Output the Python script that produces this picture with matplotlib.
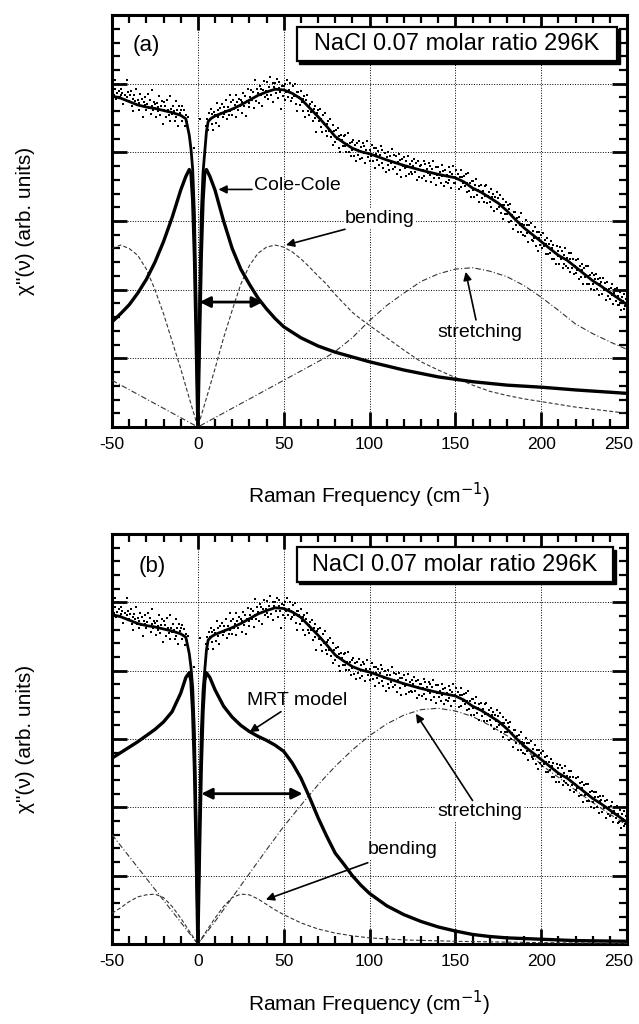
import numpy as np
import matplotlib
matplotlib.use('Agg')
import matplotlib.pyplot as plt
from matplotlib.ticker import MultipleLocator
from matplotlib.patches import Rectangle
from matplotlib.transforms import ScaledTranslation

plt.rcParams['font.family'] = ['Liberation Sans', 'DejaVu Sans']
plt.rcParams['axes.unicode_minus'] = False

# ---------------- data ----------------
title_text = "NaCl 0.07 molar ratio 296K"
xlabel_text = "Raman Frequency (cm$^{-1}$)"
ylabel_text = 'χ"(ν) (arb. units)'
xticks = [-50, 0, 50, 100, 150, 200, 250]

# measured spectrum (shared by both panels)
data_left_x = np.arange(-50, -5.75, 0.5)
data_left_y = [
    4.90, 4.99, 4.84, 5.06, 4.93, 4.78, 4.86, 5.00, 4.90, 4.80,
    4.93, 4.83, 4.87, 4.70, 4.99, 4.84, 4.76, 5.06, 4.81, 4.88,
    4.75, 4.83, 4.90, 4.68, 4.78, 4.60, 4.83, 4.75, 4.93, 4.69,
    4.77, 4.62, 4.72, 4.85, 4.67, 4.78, 4.51, 4.73, 4.81, 4.69,
    4.62, 4.71, 4.85, 4.65, 4.77, 4.56, 4.68, 4.91, 4.62, 4.73,
    4.70, 4.52, 4.72, 4.66, 4.60, 4.82, 4.55, 4.67, 4.75, 4.42,
    4.73, 4.61, 4.67, 4.51, 4.77, 4.62, 4.55, 4.82, 4.46, 4.63,
    4.56, 4.68, 4.60, 4.46, 4.75, 4.51, 4.62, 4.39, 4.68, 4.58,
    4.62, 4.46, 4.67, 4.52, 4.61, 4.38, 4.54, 4.44, 4.51,
]
data_right_x = np.arange(5, 250.25, 0.5)
data_right_y = [
    4.39, 4.49, 4.32, 4.57, 4.49, 4.63, 4.42, 4.56, 4.32, 4.59,
    4.55, 4.43, 4.72, 4.51, 4.62, 4.39, 4.65, 4.57, 4.70, 4.52,
    4.66, 4.56, 4.60, 4.76, 4.48, 4.66, 4.54, 4.84, 4.60, 4.73,
    4.54, 4.76, 4.63, 4.69, 4.84, 4.52, 4.73, 4.62, 4.78, 4.68,
    4.76, 4.57, 4.73, 4.86, 4.67, 4.82, 4.53, 4.75, 4.92, 4.72,
    4.66, 4.81, 4.91, 4.76, 4.88, 4.64, 4.81, 5.05, 4.75, 4.93,
    4.86, 4.72, 4.97, 4.84, 4.93, 4.68, 4.91, 5.04, 4.81, 4.90,
    4.84, 5.02, 4.78, 4.95, 5.10, 4.83, 4.91, 4.74, 5.01, 4.95,
    5.01, 4.87, 5.07, 4.79, 4.94, 5.03, 4.88, 4.63, 4.97, 4.82,
    4.96, 4.77, 5.00, 4.88, 5.06, 4.81, 4.91, 5.01, 4.75, 4.87,
    4.79, 4.96, 4.82, 4.99, 4.70, 4.88, 4.60, 4.88, 4.81, 4.69,
    4.90, 4.73, 4.78, 4.60, 4.82, 4.52, 4.76, 4.84, 4.60, 4.67,
    4.55, 4.71, 4.59, 4.74, 4.45, 4.63, 4.68, 4.50, 4.30, 4.58,
    4.61, 4.46, 4.63, 4.37, 4.48, 4.29, 4.54, 4.41, 4.58, 4.31,
    4.42, 4.24, 4.45, 4.31, 4.48, 4.22, 4.29, 4.40, 4.11, 4.31,
    4.15, 4.33, 4.20, 4.35, 4.07, 4.24, 4.00, 4.26, 4.18, 4.09,
    4.24, 4.09, 4.26, 4.01, 4.12, 4.28, 4.01, 4.13, 3.94, 4.15,
    4.04, 4.18, 3.95, 4.11, 3.88, 4.13, 4.03, 3.96, 4.17, 3.90,
    4.08, 3.92, 4.13, 3.99, 4.10, 3.85, 4.03, 4.16, 3.93, 3.98,
    3.87, 4.03, 3.94, 4.11, 3.88, 4.06, 3.77, 3.97, 4.06, 3.89,
    4.02, 3.82, 3.96, 4.09, 3.85, 4.03, 3.77, 3.90, 3.99, 3.71,
    3.93, 3.81, 4.01, 3.75, 3.94, 3.84, 4.05, 3.76, 3.86, 3.96,
    3.79, 3.95, 3.69, 3.86, 3.97, 3.74, 3.89, 3.64, 3.90, 3.80,
    3.93, 3.77, 3.87, 3.66, 3.79, 3.95, 3.69, 3.83, 3.71, 3.87,
    3.69, 3.80, 3.91, 3.71, 3.85, 3.60, 3.76, 3.87, 3.64, 3.80,
    3.81, 3.63, 3.75, 3.88, 3.66, 3.83, 3.58, 3.76, 3.70, 3.84,
    3.67, 3.80, 3.57, 3.76, 3.87, 3.62, 3.69, 3.52, 3.79, 3.67,
    3.79, 3.62, 3.71, 3.55, 3.81, 3.65, 3.73, 3.51, 3.75, 3.57,
    3.67, 3.55, 3.78, 3.60, 3.72, 3.48, 3.69, 3.80, 3.55, 3.64,
    3.56, 3.74, 3.61, 3.69, 3.47, 3.64, 3.74, 3.49, 3.64, 3.55,
    3.66, 3.51, 3.68, 3.43, 3.55, 3.70, 3.44, 3.56, 3.35, 3.59,
    3.45, 3.58, 3.35, 3.52, 3.61, 3.38, 3.45, 3.28, 3.51, 3.43,
    3.52, 3.33, 3.44, 3.27, 3.51, 3.36, 3.53, 3.26, 3.36, 3.42,
    3.28, 3.46, 3.21, 3.35, 3.40, 3.15, 3.35, 3.27, 3.42, 3.18,
    3.34, 3.21, 3.38, 3.11, 3.23, 3.32, 3.03, 3.23, 3.10, 3.28,
    3.10, 3.24, 2.99, 3.18, 3.25, 3.00, 3.09, 2.89, 3.13, 3.03,
    3.13, 2.94, 3.05, 2.84, 3.06, 2.94, 3.11, 2.84, 2.95, 2.79,
    2.94, 2.78, 3.01, 2.82, 2.94, 2.69, 2.94, 2.82, 2.97, 2.73,
    2.71, 2.85, 2.75, 2.91, 2.64, 2.84, 2.56, 2.76, 2.84, 2.65,
    2.80, 2.61, 2.83, 2.63, 2.73, 2.52, 2.66, 2.75, 2.52, 2.66,
    2.54, 2.71, 2.44, 2.61, 2.65, 2.45, 2.54, 2.37, 2.63, 2.49,
    2.57, 2.37, 2.62, 2.45, 2.57, 2.32, 2.50, 2.38, 2.60, 2.35,
    2.46, 2.32, 2.53, 2.26, 2.45, 2.53, 2.32, 2.45, 2.23, 2.34,
    2.25, 2.43, 2.29, 2.44, 2.16, 2.35, 2.18, 2.29, 2.37, 2.08,
    2.32, 2.18, 2.34, 2.09, 2.20, 2.34, 2.09, 2.22, 2.01, 2.24,
    2.08, 2.22, 1.99, 2.15, 2.23, 2.01, 2.15, 1.92, 2.09, 2.17,
    2.11, 1.93, 2.17, 1.99, 2.10, 1.85, 2.01, 2.11, 1.91, 2.01,
    1.87, 2.02, 1.92, 2.08, 1.79, 1.95, 2.01, 1.84, 2.02, 1.77,
    1.91, 1.78, 1.96, 1.70, 1.90, 1.83, 1.72, 1.94, 1.76, 1.87,
    1.80,
]
stray_x = [-2.0, 1.2]
stray_y = [4.06, 4.48]

# total fit (shared)
fit_x = [-50, -45, -40, -35, -30, -25, -20, -15, -10, -7, -5, -4, -3, -2, -1, 0,
         1, 2, 3, 4, 5, 6, 8, 10, 15, 20, 25, 30, 35, 40, 45, 50, 55, 60, 65, 70,
         75, 80, 85, 90, 95, 100, 110, 120, 130, 140, 150, 155, 160, 165, 170,
         175, 180, 185, 190, 195, 200, 205, 210, 215, 220, 225, 230, 235, 240,
         245, 250]
fit_y = [4.82, 4.79, 4.74, 4.69, 4.66, 4.64, 4.61, 4.58, 4.54, 4.49, 4.25, 4.05,
         3.75, 3.1, 1.8, 0.05, 1.8, 3.1, 3.7, 4.0, 4.3, 4.45, 4.5, 4.53, 4.58,
         4.63, 4.69, 4.76, 4.83, 4.88, 4.92, 4.91, 4.86, 4.78, 4.65, 4.52, 4.38,
         4.23, 4.14, 4.06, 4.01, 3.98, 3.89, 3.81, 3.74, 3.68, 3.63, 3.57, 3.48,
         3.42, 3.34, 3.26, 3.15, 3.02, 2.9, 2.8, 2.7, 2.6, 2.5, 2.43, 2.33, 2.23,
         2.13, 2.05, 1.96, 1.87, 1.78]

# panel (a): Cole-Cole, bending, stretching
cc_x = [-50, -45, -40, -35, -30, -25, -20, -15, -10, -7, -5, -4, -3, -2, -1, 0,
        1, 2, 3, 4, 5, 7, 10, 15, 20, 25, 30, 35, 40, 45, 50, 60, 70, 80, 90,
        100, 120, 140, 160, 180, 200, 220, 250]
cc_y = [1.53, 1.65, 1.78, 1.95, 2.15, 2.4, 2.7, 3.05, 3.45, 3.65, 3.75, 3.7,
        3.3, 2.5, 1.3, 0, 1.3, 2.5, 3.3, 3.7, 3.75, 3.65, 3.45, 3.0, 2.6, 2.3,
        2.08, 1.88, 1.72, 1.58, 1.46, 1.3, 1.18, 1.09, 1.02, 0.95, 0.83, 0.73,
        0.66, 0.61, 0.58, 0.54, 0.49]
bend_a_x = [-50, -45, -40, -35, -30, -25, -20, -15, -10, -5, 0, 5, 10, 15, 20,
            25, 30, 35, 40, 45, 50, 55, 60, 65, 70, 75, 80, 85, 90, 95, 100,
            110, 120, 130, 140, 150, 160, 170, 180, 190, 200, 220, 250]
bend_a_y = [2.6, 2.65, 2.6, 2.5, 2.3, 2.0, 1.65, 1.25, 0.85, 0.42, 0, 0.42,
            0.85, 1.3, 1.7, 2.08, 2.35, 2.53, 2.62, 2.65, 2.62, 2.55, 2.45,
            2.33, 2.2, 2.08, 1.93, 1.8, 1.67, 1.57, 1.48, 1.3, 1.12, 0.95,
            0.83, 0.72, 0.61, 0.52, 0.46, 0.41, 0.37, 0.29, 0.2]
str_a_x = [-50, -25, 0, 25, 50, 75, 80, 90, 100, 110, 120, 130, 140, 150, 160,
           170, 180, 190, 200, 210, 220, 230, 240, 250]
str_a_y = [0.68, 0.34, 0, 0.34, 0.68, 1.02, 1.1, 1.3, 1.55, 1.77, 1.95, 2.12,
           2.23, 2.3, 2.32, 2.27, 2.19, 2.06, 1.89, 1.7, 1.5, 1.36, 1.24, 1.13]

# panel (b): MRT model, bending, stretching
mrt_x = [-50, -45, -40, -35, -30, -25, -20, -15, -10, -7, -5, -4, -3, -2, -1,
         0, 1, 2, 3, 4, 5, 7, 10, 15, 20, 25, 30, 35, 40, 45, 50, 55, 60, 65,
         70, 75, 80, 85, 90, 95, 100, 110, 120, 130, 140, 150, 160, 170, 180,
         200, 220, 250]
mrt_y = [2.72, 2.8, 2.88, 2.96, 3.05, 3.14, 3.25, 3.4, 3.67, 3.9, 3.97, 3.85,
         3.4, 2.6, 1.4, 0, 1.4, 2.6, 3.4, 3.85, 3.97, 3.9, 3.72, 3.48, 3.32,
         3.2, 3.11, 3.04, 2.98, 2.91, 2.82, 2.65, 2.43, 2.15, 1.85, 1.58,
         1.33, 1.17, 1.0, 0.86, 0.74, 0.56, 0.43, 0.33, 0.25, 0.19, 0.14,
         0.11, 0.09, 0.07, 0.05, 0.04]
bend_b_x = [-50, -45, -40, -35, -30, -25, -20, -15, -10, -5, 0, 5, 10, 15, 20,
            25, 30, 35, 40, 45, 50, 60, 70, 80, 90, 100, 120, 150, 200, 250]
bend_b_y = [0.45, 0.53, 0.62, 0.69, 0.72, 0.73, 0.68, 0.55, 0.38, 0.19, 0,
            0.19, 0.38, 0.55, 0.68, 0.73, 0.72, 0.66, 0.58, 0.5, 0.43, 0.31,
            0.22, 0.16, 0.12, 0.09, 0.06, 0.04, 0.02, 0.01]
str_b_x = [-50, -40, -30, -20, -10, 0, 10, 20, 30, 40, 50, 60, 70, 80, 90, 100,
           110, 120, 130, 140, 150, 160, 170, 180, 190, 200, 210, 220, 230,
           240, 250]
str_b_y = [1.6, 1.28, 0.96, 0.64, 0.32, 0, 0.33, 0.68, 1.03, 1.38, 1.72, 2.03,
           2.33, 2.6, 2.84, 3.05, 3.22, 3.35, 3.43, 3.45, 3.41, 3.33, 3.2,
           3.05, 2.88, 2.62, 2.44, 2.25, 2.07, 1.9, 1.74]

# ---------------- figure ----------------
fig = plt.figure(figsize=(6.39, 10.24), dpi=100)
ax_a = fig.add_axes([0.1753, 0.583, 0.806, 0.4023])
ax_b = fig.add_axes([0.1753, 0.0781, 0.806, 0.4004])

BEND_LS = (0, (3.5, 2.0))
STR_LS = (0, (5, 2, 1, 2))
COMP_C = '#333333'


def style(ax, xlabel_y):
    ax.set_xlim(-50, 250)
    ax.set_ylim(0, 6)
    ax.set_xticks(xticks)
    ax.set_xticklabels([str(t) for t in xticks], fontsize=12.5)
    ax.xaxis.set_minor_locator(MultipleLocator(10))
    ax.yaxis.set_major_locator(MultipleLocator(1))
    ax.yaxis.set_minor_locator(MultipleLocator(0.2))
    ax.set_yticklabels([])
    ax.tick_params(which='both', direction='in', top=True, right=True,
                   color='black')
    ax.tick_params(which='major', length=11, width=2.0, pad=7)
    ax.tick_params(which='minor', length=6, width=1.6)
    ax.tick_params(axis='y', which='major', labelleft=False)
    for s in ax.spines.values():
        s.set_linewidth(2.2)
    ax.grid(True, which='major', color='black', linestyle=(0, (1, 1.6)),
            linewidth=0.7)
    ax.set_axisbelow(False)
    ax.set_xlabel(xlabel_text, fontsize=15)
    ax.xaxis.set_label_coords(0.5, xlabel_y)
    ax.set_ylabel(ylabel_text, fontsize=15)
    ax.yaxis.set_label_coords(-0.15, 0.5)
    # keep the last tick label inside the figure, as in the reference
    last = ax.xaxis.get_major_ticks()[-1].label1
    last.set_transform(last.get_transform() +
                       ScaledTranslation(-6 / 72, 0, fig.dpi_scale_trans))


def nacl_box(ax, x0, y0, x1, y1):
    w, h = x1 - x0, y1 - y0
    ax.add_patch(Rectangle((x0 + 0.005, y0 - 0.006), w, h, transform=ax.transAxes,
                           fc='black', ec='black', lw=1, zorder=5, clip_on=False))
    ax.add_patch(Rectangle((x0, y0), w, h, transform=ax.transAxes,
                           fc='white', ec='black', lw=1.6, zorder=6, clip_on=False))
    ax.text((x0 + x1) / 2, (y0 + y1) / 2, title_text, transform=ax.transAxes,
            ha='center', va='center', fontsize=17, zorder=7)


def arrow(ax, head, tail, lw=1.2, ms=12):
    ax.annotate('', xy=head, xytext=tail,
                arrowprops=dict(arrowstyle='-|>', lw=lw, color='black',
                                mutation_scale=ms, shrinkA=0, shrinkB=0),
                zorder=8)


def double_arrow(ax, x0, x1, y):
    ax.annotate('', xy=(x1, y), xytext=(x0, y),
                arrowprops=dict(arrowstyle='<|-|>', lw=2.0, color='black',
                                mutation_scale=16, shrinkA=0, shrinkB=0),
                zorder=8)


def draw_data(ax):
    kw = dict(ls='none', marker='s', ms=1.6, mew=0, color='black', zorder=4)
    ax.plot(data_left_x, data_left_y, **kw)
    ax.plot(data_right_x, data_right_y, **kw)
    ax.plot(stray_x, stray_y, **kw)
    ax.plot(fit_x, fit_y, color='black', lw=2.0, zorder=4)


# ----- panel (a) -----
ax = ax_a
style(ax, -0.13)
ax.plot(str_a_x, str_a_y, color=COMP_C, lw=0.8, ls=STR_LS, zorder=3)
ax.plot(bend_a_x, bend_a_y, color=COMP_C, lw=0.8, ls=BEND_LS, zorder=3)
ax.plot(cc_x, cc_y, color='black', lw=2.4, zorder=4)
draw_data(ax)
ax.text(-30, 5.56, '(a)', fontsize=16, ha='center', va='center')
nacl_box(ax, 0.359, 0.888, 0.981, 0.971)
ax.text(32.5, 3.52, 'Cole-Cole', fontsize=14, ha='left', va='center', zorder=9)
arrow(ax, (12, 3.46), (31.5, 3.46))
ax.text(106, 3.04, 'bending', fontsize=14, ha='center', va='center', zorder=9,
        bbox=dict(fc='white', ec='none', pad=0.5))
arrow(ax, (51.3, 2.65), (85.7, 2.88))
ax.text(164.3, 1.38, 'stretching', fontsize=14, ha='center', va='center', zorder=9)
arrow(ax, (156, 2.26), (162, 1.56))
double_arrow(ax, 1, 37.9, 1.82)

# ----- panel (b) -----
ax = ax_b
style(ax, -0.11)
ax.plot(str_b_x, str_b_y, color=COMP_C, lw=0.8, ls=STR_LS, zorder=3)
ax.plot(bend_b_x, bend_b_y, color=COMP_C, lw=0.8, ls=BEND_LS, zorder=3)
ax.plot(mrt_x, mrt_y, color='black', lw=2.4, zorder=4)
draw_data(ax)
ax.text(-26.8, 5.52, '(b)', fontsize=16, ha='center', va='center')
nacl_box(ax, 0.359, 0.883, 0.973, 0.968)
ax.text(57.7, 3.56, 'MRT model', fontsize=14, ha='center', va='center', zorder=9)
arrow(ax, (30.1, 3.1), (48.4, 3.40))
ax.text(164, 1.94, 'stretching', fontsize=14, ha='center', va='center', zorder=9,
        bbox=dict(fc='white', ec='none', pad=0.5))
arrow(ax, (127, 3.37), (160, 2.1))
ax.text(119.5, 1.38, 'bending', fontsize=14, ha='center', va='center', zorder=9,
        bbox=dict(fc='white', ec='none', pad=0.5))
arrow(ax, (39.6, 0.65), (99, 1.19))
double_arrow(ax, 2, 61, 2.2)

fig.savefig('out.png', dpi=100)
